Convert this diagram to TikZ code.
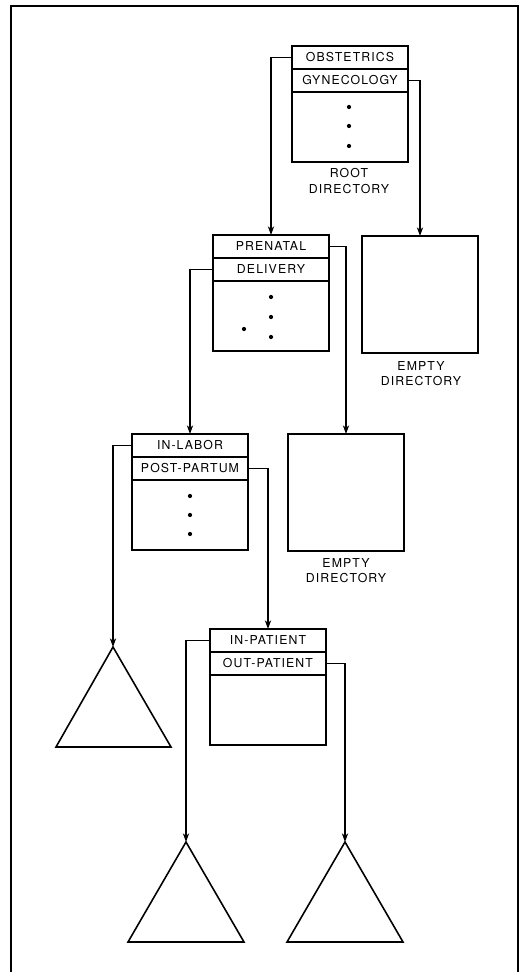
\documentclass[tikz,border=0pt]{standalone}
\usepackage{fontspec}
\newfontfamily\labfont[LetterSpace=9]{TeX Gyre Heros}
\usetikzlibrary{arrows.meta}
\begin{document}
\begin{tikzpicture}[x=0.02cm, y=-0.02cm,
  lab/.style={font=\labfont\fontsize{7}{8.6}\selectfont},
  row/.style={draw, line width=1.2pt, outer sep=0pt, minimum width=2.32cm, minimum height=0.46cm, inner sep=0pt, anchor=north west, lab},
  body/.style={draw, line width=1.2pt, outer sep=0pt, minimum width=2.32cm, minimum height=1.4cm, inner sep=0pt, anchor=north west},
  emptybox/.style={draw, line width=1.2pt, outer sep=0pt, minimum width=2.32cm, minimum height=2.34cm, inner sep=0pt, anchor=north west},
  caption/.style={lab, align=center, inner sep=0pt},
  conn/.style={line width=0.6pt, -{Stealth[length=5pt,width=3.6pt]}},
  tri/.style={line width=0.9pt, line join=miter},
  frame/.style={line width=1.3pt},
  dot/.style={fill=black}]
\useasboundingbox (0,0) rectangle (520,972);

% frame
\draw[frame] (11,972) -- (11,6) -- (518,6) -- (518,972);

% root directory
\node[row] (obs) at (292,46) {OBSTETRICS};
\node[row] (gyn) at (obs.south west) {GYNECOLOGY};
\node[body] (rootb) at (gyn.south west) {};
\fill[dot] (349,107) circle (1.2pt) (349,126) circle (1.2pt) (349,146) circle (1.2pt);
\node[caption] (rootlab) at (349,181) {ROOT\\DIRECTORY};

% obstetrics directory
\node[row] (pren) at (213,235) {PRENATAL};
\node[row] (deliv) at (pren.south west) {DELIVERY};
\node[body] (obsb) at (deliv.south west) {};
\fill[dot] (271,297) circle (1.2pt) (271,317) circle (1.2pt) (271,337) circle (1.2pt) (244,329) circle (1.2pt);

% empty directory 1
\node[emptybox] (empty1) at (362,236) {};
\node[caption] (empty1lab) at (421,374) {EMPTY\\DIRECTORY};

% delivery directory
\node[row] (inlab) at (132,434) {IN-LABOR};
\node[row] (post) at (inlab.south west) {POST-PARTUM};
\node[body] (delb) at (post.south west) {};
\fill[dot] (190,496) circle (1.2pt) (190,515) circle (1.2pt) (190,534) circle (1.2pt);

% empty directory 2
\node[emptybox] (empty2) at (288,434) {};
\node[caption] (empty2lab) at (346,571) {EMPTY\\DIRECTORY};

% post-partum directory
\node[row] (inpat) at (210,629) {IN-PATIENT};
\node[row] (outpat) at (inpat.south west) {OUT-PATIENT};
\node[body] (postb) at (outpat.south west) {};

% triangles
\coordinate (t1) at (113,647);
\draw[tri] (t1) -- (171,747) -- (56,747) -- cycle;
\coordinate (t2) at (186,842);
\draw[tri] (t2) -- (244,942) -- (128,942) -- cycle;
\coordinate (t3) at (345,842);
\draw[tri] (t3) -- (403,942) -- (287,942) -- cycle;

% connectors
\draw[conn] (obs.west) -| (pren.north);
\draw[conn] (gyn.east) -| (empty1.north);
\draw[conn] (pren.east) -| (empty2.north);
\draw[conn] (deliv.west) -| (inlab.north);
\draw[conn] (inlab.west) -| (t1);
\draw[conn] (post.east) -| (inpat.north);
\draw[conn] (inpat.west) -| (t2);
\draw[conn] (outpat.east) -| (t3);
\end{tikzpicture}
\end{document}
